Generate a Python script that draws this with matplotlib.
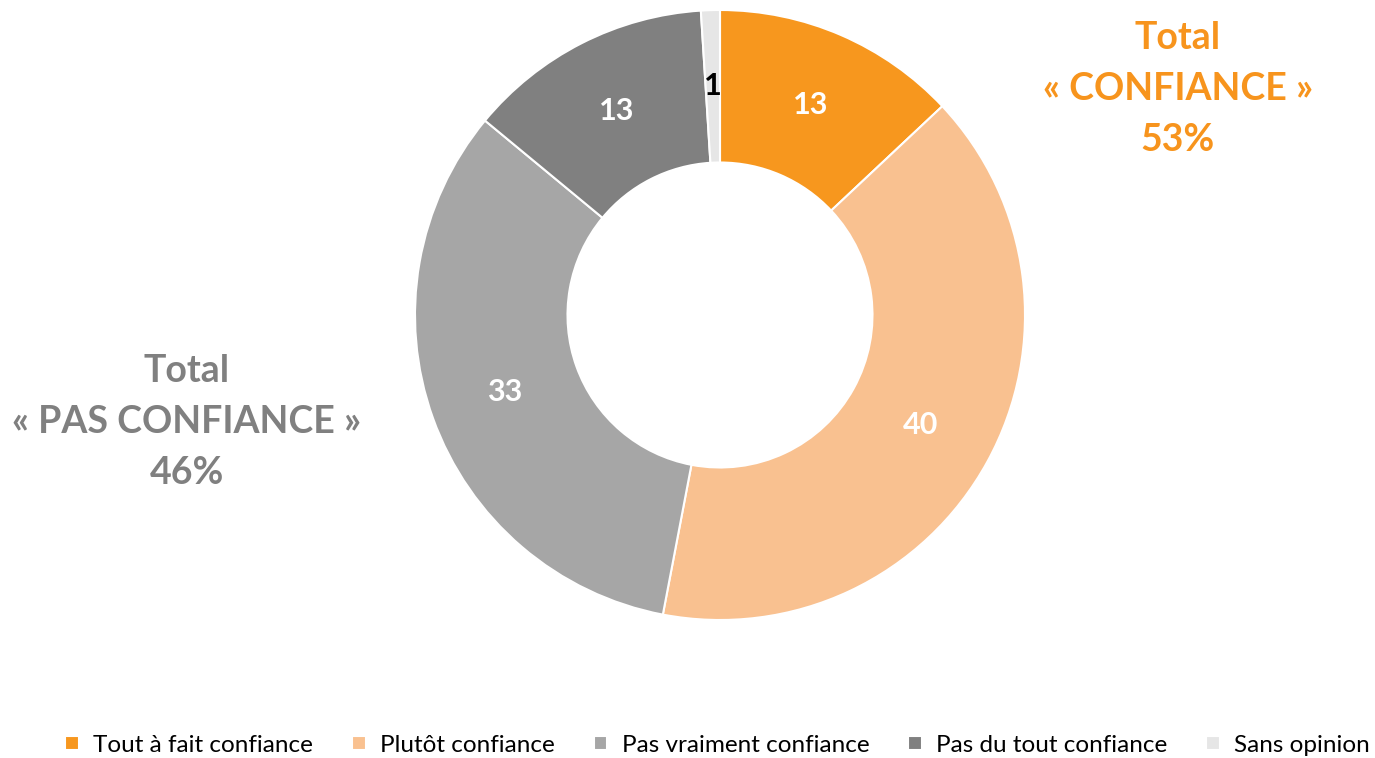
import matplotlib
matplotlib.use("Agg")
import matplotlib.pyplot as plt

categories = ["Tout à fait confiance", "Plutôt confiance", "Pas vraiment confiance",
              "Pas du tout confiance", "Sans opinion"]
values = [13, 40, 33, 13, 1]
colors = ["#F7971E", "#F9C190", "#A6A6A6", "#808080", "#E6E6E6"]
label_colors = ["white", "white", "white", "white", "black"]
total_conf = 53
total_pas = 46

plt.rcParams['font.family'] = ['Lato', 'DejaVu Sans']

fig = plt.figure(figsize=(13.75, 7.58), dpi=100)
W, H = 1375, 758
cx, cy, R = 720, 315, 305
ax = fig.add_axes([(cx - R) / W, (H - cy - R) / H, 2 * R / W, 2 * R / H])
wedges, texts = ax.pie(values, colors=colors, startangle=90, counterclock=False,
                       radius=1.0, labels=[str(v) for v in values], labeldistance=0.75,
                       wedgeprops=dict(width=0.5, edgecolor="white", linewidth=1.5))
for t, c in zip(texts, label_colors):
    t.set_color(c)
    t.set_fontsize(22)
    t.set_fontweight("bold")
    t.set_ha("center")
    t.set_va("center")
ax.set_xlim(-1, 1)
ax.set_ylim(-1, 1)
ax.set_aspect("equal")
ax.axis("off")

fig.text(1178 / W, 1 - 89 / H, "Total\n« CONFIANCE »\n%d%%" % total_conf,
         ha="center", va="center", color="#F7941D", fontsize=27, fontweight="bold",
         linespacing=1.62)
fig.text(187 / W, 1 - 422 / H, "Total\n« PAS CONFIANCE »\n%d%%" % total_pas,
         ha="center", va="center", color="#808080", fontsize=27, fontweight="bold",
         linespacing=1.62)

leg = fig.legend(wedges, categories, loc="center right", bbox_to_anchor=(1370 / W, 1 - 745 / H),
                 ncol=5, frameon=False, fontsize=17.5, handlelength=0.55, handleheight=0.55,
                 columnspacing=1.6, handletextpad=0.6, borderpad=0, borderaxespad=0)

fig.savefig("out.png", dpi=100)
